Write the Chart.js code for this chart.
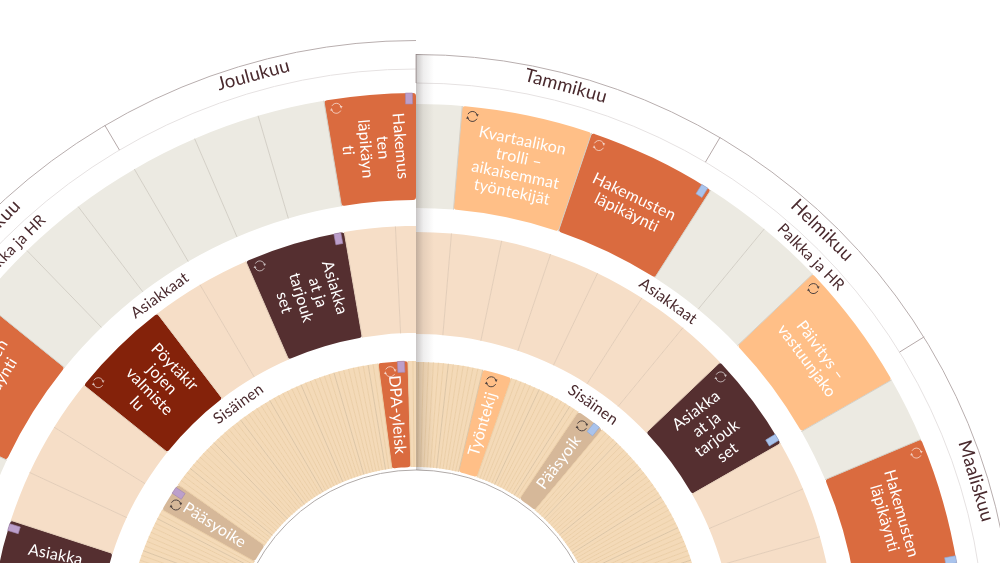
<!DOCTYPE html>
<html lang="fi">
<head>
<meta charset="utf-8">
<title>Vuosikello</title>
<script src="https://cdn.jsdelivr.net/npm/chart.js@4/dist/chart.umd.min.js"></script>
<style>
  html, body { margin: 0; width: 1000px; height: 563px; overflow: hidden; background: #fff; }
  canvas { position: absolute; }
</style>
</head>
<body>
<canvas id="leftWheel"></canvas>
<canvas id="rightWheel"></canvas>
<script>
/* --- Data: left side runs from the seam anticlockwise. A value above 1 is a task --- */
const monthsRight = [31, 28, 31, 92.5];
const monthLabelsRight = ['Tammikuu', 'Helmikuu', 'Maaliskuu', ''];
const monthsLeft = [31, 30, 121.5];
const monthLabelsLeft = ['Joulukuu', 'Marraskuu', ''];

const hrLabel = 'Palkka ja HR';
const customerLabel = 'Asiakkaat';
const internalLabel = 'Sisäinen';

const outerRightWeeks = [0.7, 2, 2, 1, 1, 2, 1, 2, 1, 1, 1, 1, 1, 1, 1, 1, 1, 1, 1, 1, 1, 1, 0.3];
const outerRightTasks = ['Kvartaalikon\ntrolli –\naikaisemmat\ntyöntekijät', 'Hakemusten\nläpikäynti', 'Päivitys –\nvastuunjako', 'Hakemusten\nläpikäynti'];
const outerRightKinds = ['peach', 'orange', 'peach', 'orange'];
const outerRightTags = [0, 1, 0, 1];

const middleRightWeeks = [0.7, 1, 1, 1, 1, 1, 1, 2, 1, 1, 1, 1, 1, 1, 1, 1, 1, 1, 1, 1, 1, 1, 1, 1, 1, 0.3];
const middleRightTasks = ['Asiakka\nat ja\ntarjouk\nset'];
const middleRightKinds = ['brown'];
const middleRightTags = [1];

const innerRightDays = [0.5,
  1, 1, 1, 1, 1, 1, 1, 1, 1, 1, 1, 1, 1, 6,
  1, 1, 1, 1, 1, 1, 1, 1, 1, 1, 1, 1, 1, 1, 1, 6,
  1, 1, 1, 1, 1, 1, 1, 1, 1, 1, 1, 1, 1, 1, 1, 1, 1, 1, 1, 1,
  1, 1, 1, 1, 1, 1, 1, 1, 1, 1, 1, 1, 1, 1, 1, 1, 1, 1, 1, 1,
  1, 1, 1, 1, 1, 1, 1, 1, 1, 1, 1, 1, 1, 1, 1, 1, 1, 1, 1, 1,
  1, 1, 1, 1, 1, 1, 1, 1, 1, 1, 1, 1, 1, 1, 1, 1, 1, 1, 1, 1,
  1, 1, 1, 1, 1, 1, 1, 1, 1, 1, 1, 1, 1, 1, 1, 1, 1, 1, 1, 1,
  1, 1, 1, 1, 1, 1, 1, 1, 1, 1, 1, 1, 1, 1, 1, 1, 1, 1, 1, 1,
  1, 1, 1, 1, 1, 1, 1, 1, 1, 1, 1, 1, 1, 1, 1, 1, 1, 1, 1, 1,
  1, 1];
const innerRightTasks = ['Työntekij', 'Pääsyoik'];
const innerRightKinds = ['peach', 'sand'];
const innerRightTags = [0, 1];

const outerLeftWeeks = [1.37, 1, 1, 1, 1, 1, 1, 2, 1, 1, 1, 1, 1, 1, 1, 1, 1, 1, 1, 1, 1, 1, 1, 1, 0.63];
const outerLeftTasks = ['Hakemus\nten\nläpikäyn\nti', 'Hakemusten\nläpikäynti'];
const outerLeftKinds = ['orange', 'orange'];
const outerLeftTags = [1, 0];

const middleLeftWeeks = [0.4, 1, 2, 1, 1, 2, 1, 1, 1, 2, 1, 1, 1, 1, 1, 1, 1, 1, 1, 1, 1, 1, 1, 0.6];
const middleLeftTasks = ['Asiakka\nat ja\ntarjouk\nset', 'Pöytäkir\njojen\nvalmiste\nlu', 'Asiakka\nat ja\ntarjouk\nset'];
const middleLeftKinds = ['brown', 'red', 'brown'];
const middleLeftTags = [1, 0, 1];

const innerLeftDays = [0.6, 1, 6,
  1, 1, 1, 1, 1, 1, 1, 1, 1, 1, 1, 1, 1, 1, 1, 1, 1, 1, 1, 1,
  1, 1, 1, 1, 1, 1, 1, 1, 1, 1, 1, 1, 1, 1, 1, 1, 1, 1, 1, 1,
  1, 1, 1, 1, 1, 1, 1, 1, 6,
  1, 1, 1, 1, 1, 1, 1, 1, 1, 1, 1, 1, 1, 1, 1, 1, 1, 1, 1, 1,
  1, 1, 1, 1, 1, 1, 1, 1, 1, 1, 1, 1, 1, 1, 1, 1, 1, 1, 1, 1,
  1, 1, 1, 1, 1, 1, 1, 1, 1, 1, 1, 1, 1, 1, 1, 1, 1, 1, 1, 1,
  1, 1, 1, 1, 1, 1, 1, 1, 1, 1, 1, 1, 1, 1, 1, 1, 1, 1, 1, 1,
  1, 1, 1, 1, 1, 1, 1, 1, 1, 1, 1, 1, 1, 1, 1, 1, 1, 1, 1, 1,
  1, 1, 1, 1, 1, 1, 1, 1, 1, 1, 1, 1, 1, 1, 1, 1, 1, 1, 1, 1,
  0.9];
const innerLeftTasks = ['DPA-yleisk', 'Pääsyoike'];
const innerLeftKinds = ['orange', 'sand'];
const innerLeftTags = [1, 1];

/* --- Styles and geometry --- */
const CENTER_X = 416;
const CENTER_Y = 652;
const FONT = 'Lato, sans-serif';
const TEXT_DARK = '#4a2a2e';
const KIND_COLORS = {
  orange: '#da6b3f', peach: '#ffbf87', brown: '#552f30', red: '#84220a', sand: '#d6b899',
  emptyOuter: '#eceae2', emptyMiddle: '#f6dec7', emptyInner: '#f4dab8', hidden: 'rgba(0,0,0,0)'
};
const LINE_COLORS = { outer: '#d3cfc6', middle: '#e3cdb8', inner: '#ebcea6' };
// ring edges from the rim inwards: month band, gap, outer, gap, middle, gap, inner, hole
const RIGHT_EDGES = [598, 569, 548, 444, 420, 318, 290, 185];
const LEFT_EDGES = [612, 583, 559, 452, 426, 319, 291, 185];

function buildCells(values, taskLabels, taskKinds, taskTags, emptyKind, isLeft) {
  let t = 0;
  const cells = values.map(value => {
    if (value > 1) {
      const cell = { value, kind: taskKinds[t], label: taskLabels[t], tag: taskTags[t] };
      t++;
      return cell;
    }
    return { value, kind: emptyKind };
  });
  if (isLeft) cells.reverse();
  cells.push({ value: values.reduce((a, b) => a + b, 0), kind: 'hidden' });
  return cells;
}

function ringDataset(cells, ring, weight) {
  return {
    data: cells.map(c => c.value),
    backgroundColor: cells.map(c => KIND_COLORS[c.kind]),
    borderRadius: cells.map(c => (c.label ? 3 : 0)),
    borderWidth: 0, hoverBorderWidth: 0, hoverOffset: 0, offset: 0,
    weight, cells, ring
  };
}

function gapDataset(weight) {
  return { data: [1], backgroundColor: KIND_COLORS.hidden, borderWidth: 0, hoverBorderWidth: 0, hoverOffset: 0, offset: 0, weight };
}

function drawText(ctx, text, x, y, rotation, font, color, lineHeight) {
  ctx.save();
  ctx.translate(x, y);
  ctx.rotate(rotation);
  ctx.font = font;
  ctx.letterSpacing = '0.2px';
  ctx.fillStyle = color;
  ctx.textAlign = 'center';
  ctx.textBaseline = 'middle';
  const lines = text.split('\n');
  lines.forEach((line, i) => ctx.fillText(line, 0, (i - (lines.length - 1) / 2) * lineHeight));
  ctx.restore();
}

function drawRefreshIcon(ctx, x, y, color) {
  ctx.save();
  ctx.translate(x, y);
  ctx.strokeStyle = color;
  ctx.fillStyle = color;
  ctx.lineWidth = 1;
  [0, Math.PI].forEach(turn => {
    ctx.save();
    ctx.rotate(turn);
    ctx.beginPath();
    ctx.arc(0, 0, 5, -Math.PI * 0.85, -Math.PI * 0.1);
    ctx.stroke();
    ctx.beginPath();
    ctx.moveTo(6.3, -2.2);
    ctx.lineTo(3.3, -2.2);
    ctx.lineTo(4.9, 0.4);
    ctx.fill();
    ctx.restore();
  });
  ctx.restore();
}

function radialLine(ctx, cx, cy, angle, r1, r2) {
  ctx.beginPath();
  ctx.moveTo(cx + r1 * Math.cos(angle), cy + r1 * Math.sin(angle));
  ctx.lineTo(cx + r2 * Math.cos(angle), cy + r2 * Math.sin(angle));
  ctx.stroke();
}

/* --- Lines, labels, icons and tags on top of the library's arcs --- */
function wheelDecor(isLeft, monthLabels) {
  return {
    id: 'wheelDecor',
    afterDatasetsDraw(chart) {
      const ctx = chart.ctx;
      const datasets = chart.data.datasets;
      const tagColor = isLeft ? '#bc9fcb' : '#a9c3ec';
      const tagEdge = isLeft ? '#a287b2' : '#8fa9d6';

      // month band
      const months = chart.getDatasetMeta(0).data;
      const cx = months[0].x;
      const cy = months[0].y;
      const arcStart = isLeft ? Math.PI / 2 : -Math.PI / 2;
      const arcEnd = arcStart + Math.PI;
      const monthOuter = months[0].outerRadius;
      const monthInner = months[0].innerRadius;
      ctx.save();
      ctx.lineWidth = 1;
      ctx.strokeStyle = '#b8aeae';
      ctx.beginPath();
      ctx.arc(cx, cy, monthOuter - 0.5, arcStart, arcEnd);
      ctx.stroke();
      ctx.strokeStyle = '#e6e2e2';
      ctx.beginPath();
      ctx.arc(cx, cy, monthInner, arcStart, arcEnd);
      ctx.stroke();
      ctx.strokeStyle = '#b5a9a9';
      months.forEach((arc, i) => {
        if (i < monthLabels.length) radialLine(ctx, cx, cy, arc.startAngle, monthInner, monthOuter);
      });

      // cell separators
      datasets.forEach((dataset, d) => {
        if (!dataset.cells) return;
        const arcs = chart.getDatasetMeta(d).data;
        arcs.forEach((arc, i) => {
          if (dataset.cells[i].kind === 'hidden' || i === 0) return;
          const weekly = dataset.ring === 'inner' && i % 7 === 0;
          ctx.strokeStyle = weekly ? '#dcc5a5' : LINE_COLORS[dataset.ring];
          radialLine(ctx, cx, cy, arc.startAngle, arc.innerRadius, arc.outerRadius);
        });
      });

      // the thin circle round the hole
      ctx.strokeStyle = '#b0aaa8';
      ctx.beginPath();
      ctx.arc(cx, cy, 182, arcStart, arcEnd);
      ctx.stroke();
      ctx.restore();

      // cell labels, icons, tags
      datasets.forEach((dataset, d) => {
        if (!dataset.cells) return;
        chart.getDatasetMeta(d).data.forEach((arc, i) => {
          const cell = dataset.cells[i];
          if (!cell.label) return;
          const mid = (arc.startAngle + arc.endAngle) / 2;
          const theta = mid + Math.PI / 2;
          const rMid = (arc.innerRadius + arc.outerRadius) / 2;
          const tangent = dataset.ring === 'outer' && cell.value >= 2;
          const rotation = tangent ? theta : (isLeft ? theta + Math.PI / 2 : theta - Math.PI / 2);
          drawText(ctx, cell.label, cx + rMid * Math.cos(mid), cy + rMid * Math.sin(mid), rotation,
            '400 16px ' + FONT, '#ffffff', 17.5);

          const iconR = arc.outerRadius - 9.5;
          const iconAngle = arc.startAngle + 11 / iconR;
          const darkIcon = cell.kind === 'peach' || cell.kind === 'sand';
          drawRefreshIcon(ctx, cx + iconR * Math.cos(iconAngle), cy + iconR * Math.sin(iconAngle),
            darkIcon ? '#4f4340' : 'rgba(255,255,255,0.6)');

          if (cell.tag) {
            const tagR = arc.outerRadius - 5.5;
            const tagAngle = arc.endAngle - 7 / tagR;
            ctx.save();
            ctx.translate(cx + tagR * Math.cos(tagAngle), cy + tagR * Math.sin(tagAngle));
            ctx.rotate(tagAngle + Math.PI / 2);
            ctx.fillStyle = tagColor;
            ctx.strokeStyle = tagEdge;
            ctx.lineWidth = 0.6;
            ctx.fillRect(-3.5, -5.5, 7, 11);
            ctx.strokeRect(-3.5, -5.5, 7, 11);
            ctx.restore();
          }
        });
      });

      // month names
      months.forEach((arc, i) => {
        if (!monthLabels[i]) return;
        const mid = (arc.startAngle + arc.endAngle) / 2;
        const r = (monthOuter + monthInner) / 2 + 2;
        drawText(ctx, monthLabels[i], cx + r * Math.cos(mid - 0.008), cy + r * Math.sin(mid - 0.008), mid + Math.PI / 2,
          '400 18.5px ' + FONT, TEXT_DARK, 17);
      });

      // ring names in the gaps
      [[1, hrLabel, 45], [3, customerLabel, 35.7], [5, internalLabel, 35.6]].forEach(([d, label, deg]) => {
        const arc = chart.getDatasetMeta(d).data[0];
        const r = (arc.innerRadius + arc.outerRadius) / 2;
        const theta = (isLeft ? -deg : deg) * Math.PI / 180;
        drawText(ctx, label, cx + r * Math.sin(theta), cy - r * Math.cos(theta), theta,
          '400 15.5px ' + FONT, TEXT_DARK, 14);
      });

      // shadow of the overlapping seam
      if (!isLeft) {
        const shade = ctx.createLinearGradient(cx, 0, cx + 18, 0);
        shade.addColorStop(0, 'rgba(60,50,50,0.28)');
        shade.addColorStop(0.4, 'rgba(60,50,50,0.09)');
        shade.addColorStop(1, 'rgba(60,50,50,0)');
        ctx.save();
        ctx.beginPath();
        ctx.arc(cx, cy, monthOuter, -Math.PI / 2, 0);
        ctx.arc(cx, cy, 182, 0, -Math.PI / 2, true);
        ctx.closePath();
        ctx.clip();
        ctx.fillStyle = shade;
        ctx.fillRect(cx, cy - monthOuter, 18, monthOuter);
        ctx.restore();
      }
    }
  };
}

function initWheel(canvasId, isLeft, edges, monthValues, monthLabels, rings) {
  const canvas = document.getElementById(canvasId);
  const size = edges[0] * 2;
  canvas.width = size;
  canvas.height = size;
  canvas.style.left = (CENTER_X - edges[0]) + 'px';
  canvas.style.top = (CENTER_Y - edges[0]) + 'px';

  const monthCells = monthValues.map(value => ({ value, kind: 'hidden' }));
  if (isLeft) monthCells.reverse();
  monthCells.push({ value: monthValues.reduce((a, b) => a + b, 0), kind: 'hidden' });
  const labelsInOrder = isLeft ? monthLabels.slice().reverse() : monthLabels;

  const outerCells = buildCells(rings.outer[0], rings.outer[1], rings.outer[2], rings.outer[3], 'emptyOuter', isLeft);
  const middleCells = buildCells(rings.middle[0], rings.middle[1], rings.middle[2], rings.middle[3], 'emptyMiddle', isLeft);
  const innerCells = buildCells(rings.inner[0], rings.inner[1], rings.inner[2], rings.inner[3], 'emptyInner', isLeft);

  new Chart(canvas, {
    type: 'doughnut',
    data: {
      datasets: [
        {
          data: monthCells.map(c => c.value),
          backgroundColor: KIND_COLORS.hidden,
          borderWidth: 0, hoverBorderWidth: 0, hoverOffset: 0, offset: 0,
          weight: edges[0] - edges[1]
        },
        gapDataset(edges[1] - edges[2]),
        ringDataset(outerCells, 'outer', edges[2] - edges[3]),
        gapDataset(edges[3] - edges[4]),
        ringDataset(middleCells, 'middle', edges[4] - edges[5]),
        gapDataset(edges[5] - edges[6]),
        ringDataset(innerCells, 'inner', edges[6] - edges[7])
      ]
    },
    options: {
      responsive: false,
      animation: false,
      events: [],
      rotation: isLeft ? 180 : 0,
      cutout: edges[7],
      layout: { padding: 0 },
      plugins: { legend: { display: false }, tooltip: { enabled: false } }
    },
    plugins: [wheelDecor(isLeft, labelsInOrder)]
  });
}

initWheel('leftWheel', true, LEFT_EDGES, monthsLeft, monthLabelsLeft, {
  outer: [outerLeftWeeks, outerLeftTasks, outerLeftKinds, outerLeftTags],
  middle: [middleLeftWeeks, middleLeftTasks, middleLeftKinds, middleLeftTags],
  inner: [innerLeftDays, innerLeftTasks, innerLeftKinds, innerLeftTags]
});
initWheel('rightWheel', false, RIGHT_EDGES, monthsRight, monthLabelsRight, {
  outer: [outerRightWeeks, outerRightTasks, outerRightKinds, outerRightTags],
  middle: [middleRightWeeks, middleRightTasks, middleRightKinds, middleRightTags],
  inner: [innerRightDays, innerRightTasks, innerRightKinds, innerRightTags]
});
</script>
</body>
</html>
